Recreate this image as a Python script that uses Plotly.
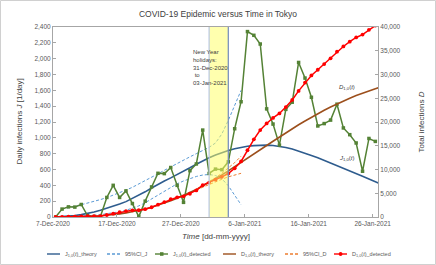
import plotly.graph_objects as go
import pandas as pd

# ---------------- data ----------------
days = pd.date_range("2020-12-07", "2021-01-26", freq="D")          # detected series (51 days)
theory_days = pd.date_range("2020-12-07", "2021-01-27", freq="D")   # theory curves (52 days)
ci_j_up_days = pd.date_range("2020-12-08", "2021-01-05", freq="D")
ci_j_lo_days = pd.date_range("2020-12-09", "2021-01-05", freq="D")
ci_d_days = pd.date_range("2020-12-29", "2021-01-05", freq="D")

j_detected = [0, 100, 128, 125, 158, 15, 5, 5, 247, 400, 247, 330, 170, 5, 200, 380,
              552, 548, 625, 400, 185, 585, 670, 1098, 550, 605, 598, 697, 1115, 1456,
              2342, 2295, 2185, 1366, 1174, 908, 1360, 1450, 1952, 1755, 1512, 1150,
              1180, 1224, 1425, 1125, 1040, 935, 578, 992, 955]

d_detected = [0, 30, 60, 100, 150, 170, 180, 200, 420, 700, 1000, 1250, 1400, 1420,
              1650, 2050, 2600, 3150, 3750, 4150, 4350, 4900, 5600, 6700, 7250, 7850,
              8450, 9150, 10250, 11700, 14050, 16350, 18300, 19700, 20850, 21800, 23150,
              24650, 26550, 28300, 29800, 31000, 32200, 33400, 34800, 35900, 36900,
              37800, 38400, 39400, 40300]

j_theory = [0, 4, 10, 19, 30, 45, 62, 85, 108, 135, 163, 194, 232, 273, 318, 366, 414,
            455, 494, 534, 575, 622, 667, 710, 748, 782, 813, 840, 862, 880, 893, 902,
            907, 908, 904, 893, 878, 858, 834, 807, 778, 748, 716, 684, 651, 618, 584,
            550, 515, 481, 446, 412]

d_theory = [0, 4, 14, 33, 63, 108, 170, 255, 363, 498, 661, 855, 1087, 1360, 1678, 2044,
            2458, 2913, 3407, 3941, 4516, 5138, 5805, 6515, 7263, 8045, 8858, 9698,
            10560, 11440, 12333, 13235, 14142, 15050, 15954, 16847, 17725, 18583, 19417,
            20224, 21002, 21750, 22466, 23150, 23801, 24419, 25003, 25553, 26068, 26549,
            26995, 27407]

ci_j_upper = [100, 115, 135, 155, 175, 195, 220, 245, 275, 305, 340, 375, 415, 455, 500,
              545, 590, 635, 680, 720, 760, 800, 840, 880, 935, 1050, 1220, 1410, 1600]
ci_j_lower = [0, 4, 9, 15, 22, 30, 40, 52, 66, 85, 110, 140, 180, 228, 280, 332, 378,
              420, 455, 487, 512, 530, 537, 524, 482, 395, 270, 155]

ci_d_upper = [5850, 6600, 7400, 8250, 9200, 10250, 11450, 12800]
ci_d_lower = [5700, 6300, 6900, 7450, 7950, 8450, 8850, 9200]

tick_dates = ["2020-12-07", "2020-12-17", "2020-12-27", "2021-01-06", "2021-01-16", "2021-01-26"]
tick_labels = ["7-Dec-2020", "17-Dec-2020", "27-Dec-2020", "6-Jan-2021", "16-Jan-2021", "26-Jan-2021"]

holiday_start = "2020-12-31"
holiday_end = "2021-01-03"

legend_names = ["J<sub>1,0</sub>(<i>t</i>)_theory", "95%CI_J", "J<sub>1,0</sub>(<i>t</i>)_detected",
                "D<sub>1,0</sub>(<i>t</i>)_theory", "95%CI_D", "D<sub>1,0</sub>(<i>t</i>)_detected"]

# ---------------- styles ----------------
C_JT = "#2E5C8E"
C_CIJ = "#5B9BD5"
C_JD = "#548235"
C_DT = "#9C4F1C"
C_CID = "#ED7D31"
C_DD = "#FF0000"
DASH = "3px,2px"
FONT = "Liberation Sans"
W, H = 436, 265
ML, MR, MT, MB = 53, 58, 27, 48
PW, PH = W - ML - MR, H - MT - MB

fig = go.Figure()

fig.add_trace(go.Scatter(x=theory_days, y=j_theory, mode="lines", name=legend_names[0],
                         line=dict(color=C_JT, width=1.6)))
fig.add_trace(go.Scatter(x=ci_j_up_days, y=ci_j_upper, mode="lines", name=legend_names[1],
                         line=dict(color=C_CIJ, width=1, dash=DASH)))
fig.add_trace(go.Scatter(x=ci_j_lo_days, y=ci_j_lower, mode="lines", name=legend_names[1],
                         line=dict(color=C_CIJ, width=1, dash=DASH)))
fig.add_trace(go.Scatter(x=days, y=j_detected, mode="lines+markers", name=legend_names[2],
                         line=dict(color=C_JD, width=1.5), marker=dict(symbol="square", size=3.5, color=C_JD)))
fig.add_trace(go.Scatter(x=theory_days, y=d_theory, mode="lines", name=legend_names[3],
                         yaxis="y2", line=dict(color=C_DT, width=1.6)))
fig.add_trace(go.Scatter(x=ci_d_days, y=ci_d_upper, mode="lines", name=legend_names[4],
                         yaxis="y2", line=dict(color=C_CID, width=1, dash=DASH)))
fig.add_trace(go.Scatter(x=ci_d_days, y=ci_d_lower, mode="lines", name=legend_names[4],
                         yaxis="y2", line=dict(color=C_CID, width=1, dash=DASH)))
fig.add_trace(go.Scatter(x=days, y=d_detected, mode="lines+markers", name=legend_names[5],
                         yaxis="y2", line=dict(color=C_DD, width=1.5),
                         marker=dict(symbol="circle", size=3.8, color=C_DD)))

# shift ticks so that daily points sit between tick marks (Excel-style)
tick_vals = [pd.Timestamp(d) - pd.Timedelta(hours=10) for d in tick_dates]
x_range = [pd.Timestamp("2020-12-07") - pd.Timedelta(hours=10),
           pd.Timestamp("2021-01-26") + pd.Timedelta(hours=10)]

axis_col = "#A6A6A6"
tick_font = dict(family=FONT, size=6.5, color="#595959")

fig.update_layout(
    width=W, height=H,
    margin=dict(l=ML, r=MR, t=MT, b=MB, autoexpand=False),
    paper_bgcolor="white", plot_bgcolor="white",
    font=dict(family=FONT, color="#404040"),
    title=dict(text="COVID-19 Epidemic versus Time in Tokyo", x=0.5, xref="container",
               y=1 - 14 / H, yanchor="middle", font=dict(family=FONT, size=8.5, color="#404040")),
    showlegend=False,
    xaxis=dict(type="date", range=x_range, tickvals=tick_vals, ticktext=tick_labels,
               ticks="inside", ticklen=3, tickcolor=axis_col, showline=True, linecolor=axis_col,
               linewidth=1, mirror=True, showgrid=False, zeroline=False, tickfont=tick_font),
    yaxis=dict(range=[0, 2400], dtick=200, tickformat=",", ticks="inside", ticklen=3,
               tickcolor=axis_col, showline=True, linecolor=axis_col, linewidth=1,
               showgrid=False, zeroline=False, tickfont=tick_font),
    yaxis2=dict(range=[0, 40000], dtick=5000, tickformat=",", overlaying="y", side="right",
                ticks="inside", ticklen=3, tickcolor=axis_col, showline=True, linecolor=axis_col,
                linewidth=1, showgrid=False, zeroline=False, tickfont=tick_font),
)

# holiday band (semi-transparent, above traces)
fig.add_shape(type="rect", xref="x", yref="paper", x0=holiday_start, x1=holiday_end, y0=0, y1=1,
              fillcolor="rgba(255,255,100,0.52)", line=dict(width=0), layer="above")
fig.add_shape(type="line", xref="x", yref="paper", x0=holiday_start, x1=holiday_start, y0=0, y1=1,
              line=dict(color="#B7C6E2", width=1.2), layer="above")
fig.add_shape(type="line", xref="x", yref="paper", x0=holiday_end, x1=holiday_end, y0=0, y1=1,
              line=dict(color="#7189BB", width=1.2), layer="above")


def px_x(p):
    return (p - ML) / PW


def px_y(p):
    return (H - MB - p) / PH


# outer chart frame
fig.add_shape(type="rect", xref="paper", yref="paper",
              x0=px_x(0.5), x1=px_x(W - 0.5), y0=px_y(H - 0.5), y1=px_y(0.5),
              line=dict(color="#D0D0D0", width=1), fillcolor="rgba(0,0,0,0)", layer="below")

# custom legend (one row, like the reference)
leg_y = px_y(254)
leg_line_x = [47, 107, 155, 223, 285, 334]
leg_cols = [C_JT, C_CIJ, C_JD, C_DT, C_CID, C_DD]
leg_dash = ["solid", DASH, "solid", "solid", DASH, "solid"]
leg_font = dict(family=FONT, size=5.5, color="#595959")
for i, name in enumerate(legend_names):
    x0 = leg_line_x[i]
    fig.add_shape(type="line", xref="paper", yref="paper", x0=px_x(x0), x1=px_x(x0 + 13),
                  y0=leg_y, y1=leg_y, line=dict(color=leg_cols[i], width=1.4, dash=leg_dash[i]))
    if i == 2:
        fig.add_shape(type="rect", xref="paper", yref="paper", x0=px_x(x0 + 5), x1=px_x(x0 + 8.5),
                      y0=px_y(255.8), y1=px_y(252.2), fillcolor=C_JD, line=dict(width=0))
    if i == 5:
        fig.add_shape(type="circle", xref="paper", yref="paper", x0=px_x(x0 + 4.7), x1=px_x(x0 + 8.5),
                      y0=px_y(255.9), y1=px_y(252.1), fillcolor=C_DD, line=dict(width=0))
    fig.add_annotation(text=name, xref="paper", yref="paper", x=px_x(x0 + 15.5), y=leg_y,
                       xanchor="left", yanchor="middle", showarrow=False, font=leg_font)

ann_font = dict(family=FONT, size=6, color="#404040")
fig.add_annotation(text="New Year<br>holidays:<br>31-Dec-2020<br>&nbsp;to<br>03-Jan-2021",
                   xref="x", yref="paper", x=pd.Timestamp("2020-12-28 05:00"), y=px_y(47),
                   xanchor="left", yanchor="top", align="left", showarrow=False, font=ann_font)
fig.add_annotation(text="<i>D</i><sub>1,0</sub>(<i>t</i>)", xref="x", yref="y2",
                   x=pd.Timestamp("2021-01-21 14:00"), y=27300, showarrow=False, font=ann_font)
fig.add_annotation(text="<i>J</i><sub>1,0</sub>(<i>t</i>)", xref="x", yref="y",
                   x=pd.Timestamp("2021-01-21 12:00"), y=745, showarrow=False, font=ann_font)

# axis titles
fig.add_annotation(text="Daily infections <i>J</i> [1/day]", xref="paper", yref="paper",
                   x=px_x(12), y=0.5, textangle=-90, showarrow=False,
                   font=dict(family=FONT, size=8, color="#404040"))
fig.add_annotation(text="Total infections <i>D</i>", xref="paper", yref="paper",
                   x=px_x(427), y=0.5, textangle=-90, showarrow=False,
                   font=dict(family=FONT, size=8, color="#404040"))
fig.add_annotation(text="<i>Time</i> [dd-mm-yyyy]", xref="paper", yref="paper",
                   x=0.5, y=px_y(237), yanchor="middle", showarrow=False,
                   font=dict(family=FONT, size=8, color="#404040"))

fig.write_html("out.html", config={"displayModeBar": False},
               post_script="document.body.style.margin='0';document.body.style.padding='0';")
